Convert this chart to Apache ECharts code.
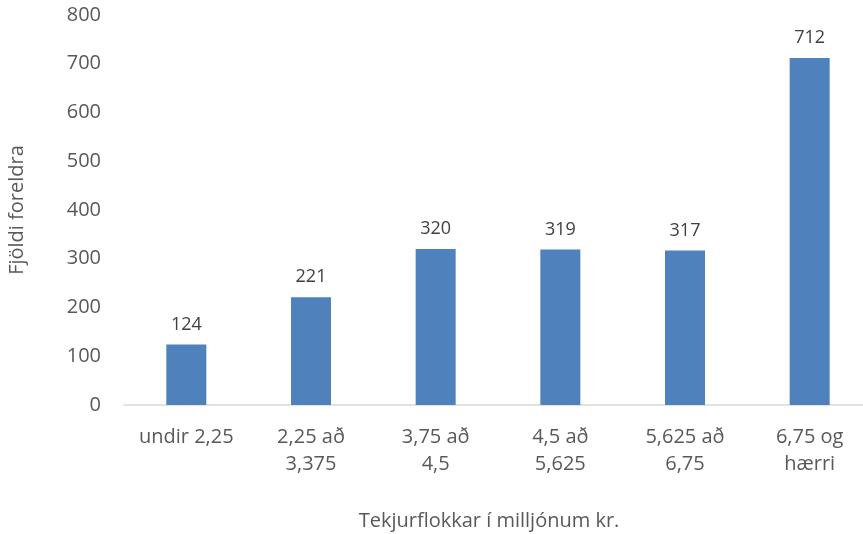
<!DOCTYPE html>
<html>
<head>
<meta charset="utf-8">
<script src="https://cdn.jsdelivr.net/npm/echarts@6/dist/echarts.min.js"></script>
<style>
  html, body { margin: 0; padding: 0; background: #fff; }
  #main { width: 863px; height: 534px; }
</style>
</head>
<body>
<div id="main"></div>
<script>
var categories = ['undir 2,25', '2,25 að\n3,375', '3,75 að\n4,5', '4,5 að\n5,625', '5,625 að\n6,75', '6,75 og\nhærri'];
var values = [124, 221, 320, 319, 317, 712];

var myChart = echarts.init(document.getElementById('main'));
var option = {
	animation: false,
	grid: {
		left: 124,
		right: -9,
		top: 15,
		bottom: 129,
		outerBoundsMode: 'none'
	},
	xAxis: {
		type: 'category',
		data: categories,
		name: 'Tekjurflokkar í milljónum kr.',
		nameLocation: 'middle',
		nameGap: 106,
		nameTextStyle: {
			fontFamily: 'Open Sans',
			fontSize: 20,
			color: '#595959',
			padding: [0, 18, 0, 0]
		},
		axisLine: { lineStyle: { color: '#d9d9d9', width: 1.5 } },
		axisTick: { show: false },
		axisLabel: {
			interval: 0,
			margin: 19,
			fontFamily: 'Open Sans',
			fontSize: 20,
			lineHeight: 27,
			color: '#595959'
		}
	},
	yAxis: {
		type: 'value',
		min: 0,
		max: 800,
		interval: 100,
		name: 'Fjöldi foreldra',
		nameLocation: 'middle',
		nameGap: 97,
		nameTextStyle: {
			fontFamily: 'Open Sans',
			fontSize: 20,
			color: '#595959'
		},
		splitLine: { show: false },
		axisLine: { show: false },
		axisTick: { show: false },
		axisLabel: {
			margin: 23,
			fontFamily: 'Open Sans',
			fontSize: 20,
			color: '#595959'
		}
	},
	series: [{
		type: 'bar',
		data: values,
		barWidth: 40,
		itemStyle: { color: '#4f81bd' },
		label: {
			show: true,
			position: 'top',
			distance: 11,
			fontFamily: 'Open Sans',
			fontSize: 18,
			color: '#404040'
		}
	}]
};
myChart.setOption(option);
</script>
</body>
</html>
